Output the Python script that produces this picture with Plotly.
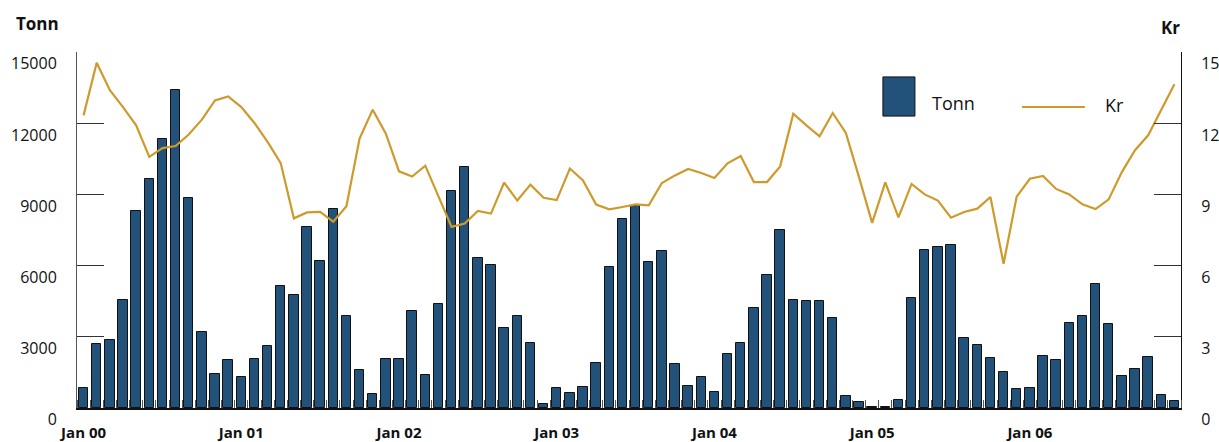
import plotly.graph_objects as go

tonn = [860, 2684, 2882, 4567, 8317, 9666, 11322, 13399, 8865, 3202, 1433, 2039,
        1294, 2081, 2629, 5128, 4749, 7614, 6194, 8385, 3876, 1601, 607, 2081,
        2081, 4087, 1407, 4399, 9143, 10142, 6308, 6025, 3388, 3876, 2739, 185,
        860, 632, 902, 1913, 5958, 7963, 8528, 6139, 6615, 1841, 944, 1323,
        691, 2263, 2739, 4201, 5604, 7517, 4551, 4496, 4496, 3779, 522, 253,
        60, 30, 324, 4651, 6674, 6800, 6885, 2966, 2642, 2094, 1534, 788,
        860, 2178, 2010, 3569, 3864, 5225, 3527, 1348, 1660, 2166, 565, 312]

kr = [12.33, 14.55, 13.39, 12.68, 11.91, 10.58, 10.95, 11.04, 11.52, 12.15, 12.96, 13.13,
      12.68, 12.01, 11.21, 10.32, 7.99, 8.24, 8.26, 7.85, 8.50, 11.35, 12.57, 11.56,
      9.97, 9.75, 10.21, 8.95, 7.63, 7.77, 8.30, 8.19, 9.50, 8.74, 9.41, 8.86,
      8.76, 10.09, 9.59, 8.57, 8.37, 8.47, 8.58, 8.54, 9.48, 9.80, 10.07, 9.90,
      9.69, 10.31, 10.62, 9.52, 9.52, 10.18, 12.40, 11.91, 11.45, 12.43, 11.59, 9.73,
      7.80, 9.51, 8.03, 9.44, 9.00, 8.74, 8.02, 8.26, 8.40, 8.89, 6.08, 8.91,
      9.66, 9.78, 9.23, 9.00, 8.58, 8.38, 8.79, 9.94, 10.86, 11.49, 12.54, 13.64]

months = list(range(len(tonn)))
tick_pos = [0, 12, 24, 36, 48, 60, 72]
tick_text = ["Jan 00", "Jan 01", "Jan 02", "Jan 03", "Jan 04", "Jan 05", "Jan 06"]
left_ticks = [0, 3000, 6000, 9000, 12000, 15000]
right_ticks = [0, 3, 6, 9, 12, 15]

BLUE = "#22527A"
GOLD = "#CF9A2C"
FONT = "Open Sans"

fig = go.Figure()
fig.add_trace(go.Bar(x=months, y=tonn, width=0.72, marker=dict(color=BLUE, line=dict(color="#111111", width=1)),
                     name="Tonn", yaxis="y"))
fig.add_trace(go.Scatter(x=months, y=kr, mode="lines", line=dict(color=GOLD, width=2.2),
                         name="Kr", yaxis="y2"))

fig.update_layout(
    width=1219, height=442,
    margin=dict(l=77, r=38, t=52, b=34),
    plot_bgcolor="white", paper_bgcolor="white",
    showlegend=False,
    font=dict(family=FONT, color="#111111"),
    bargap=0,
    xaxis=dict(
        range=[-0.5, 83.5], tickvals=tick_pos, ticktext=tick_text, automargin=False,
        tickfont=dict(family=FONT, size=15, color="#111111", weight="bold"),
        ticks="", showgrid=False, zeroline=False,
        showline=True, linecolor="#111111", linewidth=2,
        ticklabelstandoff=10,
        minor=dict(ticks="inside", tick0=-0.5, dtick=1, ticklen=8, tickcolor="#555555", tickwidth=1, showgrid=False),
    ),
    yaxis=dict(
        range=[0, 15000], tickvals=left_ticks, ticktext=[str(v) for v in left_ticks], automargin=False,
        ticks="inside", ticklen=27, tickcolor="#333333", tickwidth=1,
        showgrid=False, zeroline=False, showline=True, linecolor="#555555", linewidth=1,
        tickfont=dict(family=FONT, size=16, color="#111111"),
        ticklabelposition="outside bottom", ticklabelstandoff=16,
    ),
    yaxis2=dict(
        range=[0, 15], tickvals=right_ticks, ticktext=[str(v) for v in right_ticks], automargin=False,
        overlaying="y", side="right",
        ticks="inside", ticklen=27, tickcolor="#333333", tickwidth=1,
        showgrid=False, zeroline=False, showline=True, linecolor="#111111", linewidth=1,
        tickfont=dict(family=FONT, size=16, color="#111111"),
        ticklabelposition="outside bottom", ticklabelstandoff=16,
    ),
)

# axis titles
fig.add_annotation(text="<b>Tonn</b>", xref="paper", yref="paper", x=-0.057, y=1.079,
                   xanchor="left", yanchor="middle", showarrow=False,
                   font=dict(family=FONT, size=17, color="#111111"))
fig.add_annotation(text="<b>Kr</b>", xref="paper", yref="paper", x=0.980, y=1.070,
                   xanchor="left", yanchor="middle", showarrow=False,
                   font=dict(family=FONT, size=17, color="#111111"))

# custom legend
fig.add_shape(type="rect", xref="paper", yref="paper", x0=0.730, x1=0.759, y0=0.820, y1=0.930,
              fillcolor=BLUE, line=dict(color="#111111", width=1))
fig.add_annotation(text="Tonn", xref="paper", yref="paper", x=0.7726, y=0.857,
                   xanchor="left", yanchor="middle", showarrow=False,
                   font=dict(family=FONT, size=18, color="#111111"))
fig.add_shape(type="line", xref="paper", yref="paper", x0=0.856, x1=0.913, y0=0.8455, y1=0.8455,
              line=dict(color=GOLD, width=2))
fig.add_annotation(text="Kr", xref="paper", yref="paper", x=0.929, y=0.851,
                   xanchor="left", yanchor="middle", showarrow=False,
                   font=dict(family=FONT, size=18, color="#111111"))

fig.write_html("out.html", config={"displayModeBar": False},
               post_script="document.body.style.margin='0';document.body.style.overflow='hidden';")
